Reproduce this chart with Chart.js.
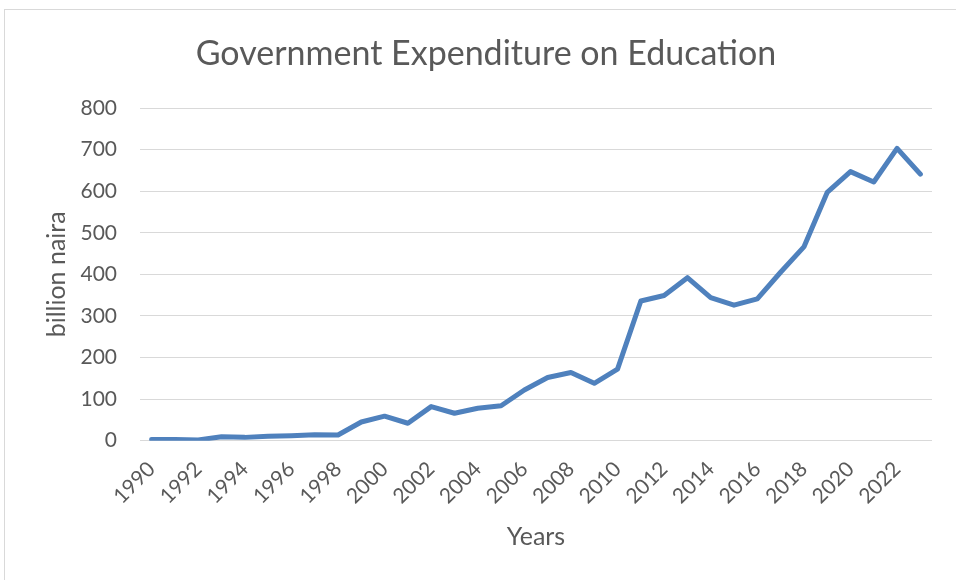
<!DOCTYPE html>
<html>
<head>
<meta charset="utf-8">
<script src="https://cdn.jsdelivr.net/npm/chart.js@4"></script>
<style>
  html, body { margin: 0; padding: 0; background: #fff; }
  #wrap { position: relative; width: 956px; height: 580px; overflow: hidden; }
  #frame { position: absolute; left: 4px; top: 9px; width: 1000px; height: 700px; border-left: 1px solid #d9d9d9; border-top: 1px solid #d9d9d9; }
  canvas { position: absolute; left: 0; top: 0; }
</style>
</head>
<body>
<div id="wrap">
  <div id="frame"></div>
  <canvas id="chart" width="956" height="580"></canvas>
</div>
<script>
// chart data
const years = [];
for (let y = 1990; y <= 2023; y++) years.push(String(y));

const spending = [
  3, 2.9, 1.7, 9.6, 8, 10.5, 12, 14.5, 13.7, 45,
  59, 42, 82, 66, 78, 84, 122, 152, 164, 138,
  172, 336, 349, 392, 344, 326, 341, 405, 466, 597,
  647, 622, 703, 641
];

const yTicks = [0, 100, 200, 300, 400, 500, 600, 700, 800];

const textColor = '#595959';
const fontFamily = 'Lato, "Open Sans", sans-serif';

const ctx = document.getElementById('chart').getContext('2d');
new Chart(ctx, {
  type: 'line',
  data: {
    labels: years,
    datasets: [{
      label: 'Expenditure',
      data: spending,
      borderColor: '#4f81bd',
      borderWidth: 5,
      borderJoinStyle: 'round',
      borderCapStyle: 'round',
      pointRadius: 0,
      tension: 0,
      fill: false
    }]
  },
  options: {
    responsive: false,
    animation: false,
    layout: { padding: { left: 40, right: 24, top: 10, bottom: 10 } },
    plugins: {
      legend: { display: false },
      tooltip: { enabled: false },
      title: {
        display: true,
        text: 'Government Expenditure on Education',
        color: textColor,
        font: { family: fontFamily, size: 34, weight: 'normal' },
        padding: { top: 23.6, bottom: 33.6 }
      }
    },
    scales: {
      x: {
        offset: true,
        grid: { display: false },
        border: { display: false },
        afterFit: s => { s.height = 129.3; },
        ticks: {
          autoSkip: false,
          minRotation: 45,
          maxRotation: 45,
          padding: 8,
          color: textColor,
          font: { family: fontFamily, size: 21 },
          callback: function (v, i) { return i % 2 === 0 ? this.getLabelForValue(v) : ''; }
        },
        title: {
          display: true,
          text: 'Years',
          color: textColor,
          font: { family: fontFamily, size: 25 },
          padding: { top: 0, bottom: 18 }
        }
      },
      y: {
        min: 0,
        max: 800,
        afterFit: s => { s.width = 100; },
        afterBuildTicks: s => { s.ticks = yTicks.map(v => ({ value: v })); },
        grid: { color: '#d9d9d9', lineWidth: 1, drawTicks: false },
        border: { display: false },
        ticks: {
          padding: 23,
          color: textColor,
          font: { family: fontFamily, size: 21 }
        },
        title: {
          display: true,
          text: 'billion naira',
          color: textColor,
          font: { family: fontFamily, size: 25 },
          padding: { top: 2.3, bottom: 0 }
        }
      }
    }
  }
});
</script>
</body>
</html>
